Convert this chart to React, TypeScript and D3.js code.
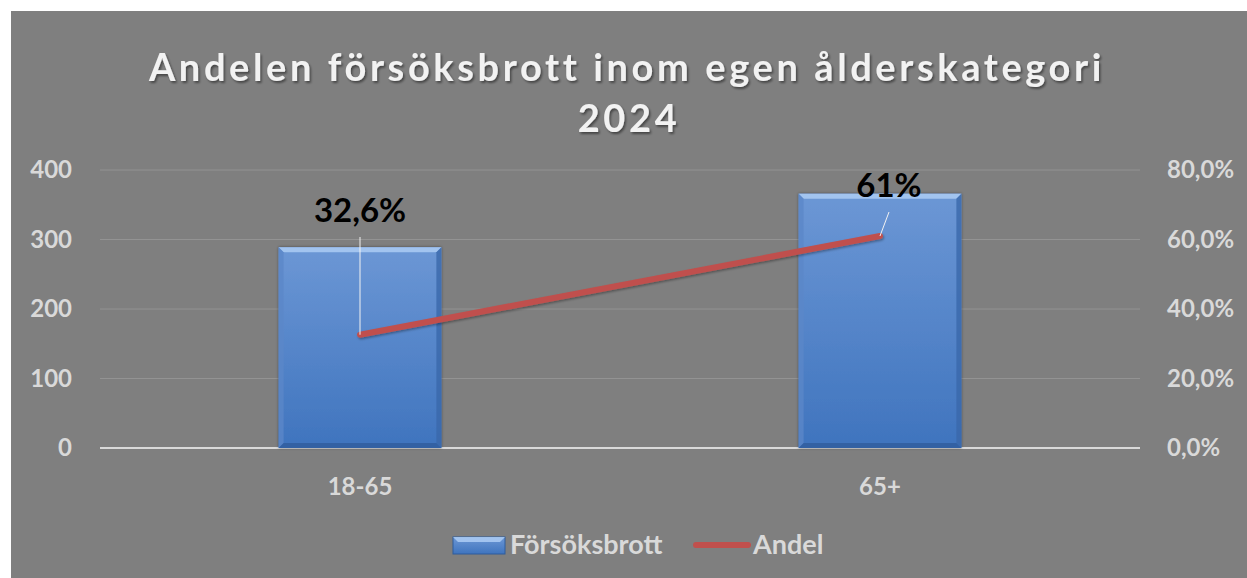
import React from "react";
import * as d3 from "d3";

// chart data
const categories = ["18-65", "65+"];
const attempts = [289, 366]; // Försöksbrott
const shares = [32.6, 61]; // Andel, percent
const shareLabels = ["32,6%", "61%"];
const leftTicks = [0, 100, 200, 300, 400];
const rightTicks = [0, 20, 40, 60, 80];
const titleLines = ["Andelen försöksbrott inom egen ålderskategori", "2024"];

const W = 1247;
const H = 578;
const FONT = "Lato, 'Open Sans', sans-serif";

function App() {
  const x = d3.scaleBand().domain(categories).range([100, 1140]).paddingInner(0.687).paddingOuter(0.3435);
  const yL = d3.scaleLinear().domain([0, 400]).range([448, 170]);
  const yR = d3.scaleLinear().domain([0, 80]).range([448, 170]);

  const bw = x.bandwidth();
  const cx = (c: string) => (x(c) as number) + bw / 2;

  const lineGen = d3.line<number>()
    .x((_, i) => cx(categories[i]))
    .y((d) => yR(d));

  const fmtPct = (v: number) => v.toFixed(1).replace(".", ",") + "%";
  const b = 5; // bevel

  return (
    <svg width={W} height={H} style={{ position: "absolute", left: 0, top: 0 }} fontFamily={FONT}>
      <defs>
        <linearGradient id="barGrad" x1="0" y1="0" x2="0" y2="1">
          <stop offset="0" stopColor="#6c97d5" />
          <stop offset="1" stopColor="#3f74be" />
        </linearGradient>
        <filter id="titleShadow" x="-5%" y="-20%" width="110%" height="150%">
          <feDropShadow dx="1.5" dy="2" stdDeviation="1.2" floodColor="#000" floodOpacity="0.45" />
        </filter>
        <filter id="barShadow" x="-10%" y="-10%" width="120%" height="120%">
          <feDropShadow dx="0" dy="0" stdDeviation="1.5" floodColor="#000" floodOpacity="0.45" />
        </filter>
        <filter id="lineShadow" x="-5%" y="-20%" width="110%" height="150%">
          <feDropShadow dx="1" dy="1.5" stdDeviation="1" floodColor="#000" floodOpacity="0.35" />
        </filter>
      </defs>
      <rect x={0} y={0} width={W} height={H} fill="#ffffff" />
      <rect x={11} y={11} width={W - 11} height={H - 11} fill="#7f7f7f" />

      {/* title */}
      <g fill="#f2f2f2" fontWeight="bold" textAnchor="middle" filter="url(#titleShadow)">
        <text x={627} y={81} fontSize={38} letterSpacing={3.6}>{titleLines[0]}</text>
        <text x={629} y={132} fontSize={38} letterSpacing={3.6}>{titleLines[1]}</text>
      </g>

      {/* gridlines */}
      {leftTicks.map((t) => (
        <line key={t} x1={100} x2={1140} y1={yL(t)} y2={yL(t)}
          stroke={t === 0 ? "#d9d9d9" : "#939393"} strokeWidth={t === 0 ? 2 : 1} />
      ))}

      {/* left axis */}
      <g fill="#d9d9d9" fontWeight="bold" fontSize={24} textAnchor="end">
        {leftTicks.map((t) => (
          <text key={t} x={72} y={yL(t)} dy="0.35em">{t}</text>
        ))}
      </g>
      {/* right axis */}
      <g fill="#d9d9d9" fontWeight="bold" fontSize={24} textAnchor="start">
        {rightTicks.map((t) => (
          <text key={t} x={1167} y={yR(t)} dy="0.35em">{fmtPct(t)}</text>
        ))}
      </g>

      {/* bars */}
      {categories.map((c, i) => {
        const x0 = x(c) as number;
        const x1 = x0 + bw;
        const y0 = yL(attempts[i]);
        const y1 = yL(0);
        return (
          <g key={c}>
            <rect x={x0} y={y0} width={bw} height={y1 - y0} fill="url(#barGrad)" filter="url(#barShadow)" />
            <polygon points={`${x0},${y0} ${x1},${y0} ${x1 - b},${y0 + b} ${x0 + b},${y0 + b}`} fill="#a9c9f2" opacity={0.9} />
            <polygon points={`${x0},${y0} ${x0 + b},${y0 + b} ${x0 + b},${y1 - b} ${x0},${y1}`} fill="#5b87c8" opacity={0.8} />
            <polygon points={`${x1},${y0} ${x1 - b},${y0 + b} ${x1 - b},${y1 - b} ${x1},${y1}`} fill="#3a68aa" opacity={0.8} />
            <polygon points={`${x0},${y1} ${x0 + b},${y1 - b} ${x1 - b},${y1 - b} ${x1},${y1}`} fill="#2f5c9c" opacity={0.8} />
          </g>
        );
      })}

      {/* category labels */}
      <g fill="#d9d9d9" fontWeight="bold" fontSize={24} textAnchor="middle">
        {categories.map((c) => (
          <text key={c} x={cx(c)} y={495}>{c}</text>
        ))}
      </g>

      {/* share line */}
      <path d={lineGen(shares) as string} fill="none" stroke="#c0504d" strokeWidth={6} strokeLinecap="round" filter="url(#lineShadow)" />

      {/* leader lines */}
      <line x1={cx(categories[0])} x2={cx(categories[0])} y1={237} y2={yR(shares[0])} stroke="#f2f2f2" strokeWidth={1} />
      <line x1={cx(categories[1]) + 9} x2={cx(categories[1])} y1={212} y2={yR(shares[1])} stroke="#f2f2f2" strokeWidth={1} />

      {/* data labels */}
      <g fill="#000000" fontWeight="bold" fontSize={33} textAnchor="middle">
        <text x={cx(categories[0])} y={222}>{shareLabels[0]}</text>
        <text x={cx(categories[1]) + 9} y={197}>{shareLabels[1]}</text>
      </g>

      {/* legend */}
      <g>
        <rect x={453} y={537} width={52} height={17} fill="url(#barGrad)" stroke="#2f5c9c" strokeWidth={1} />
        <polygon points="453,537 505,537 500,542 458,542" fill="#a9c9f2" opacity={0.9} />
        <text x={510} y={554} fill="#d9d9d9" fontWeight="bold" fontSize={27}>Försöksbrott</text>
        <line x1={696} x2={748} y1={545} y2={545} stroke="#c0504d" strokeWidth={6} strokeLinecap="round" />
        <text x={753} y={554} fill="#d9d9d9" fontWeight="bold" fontSize={27}>Andel</text>
      </g>
    </svg>
  );
}

export default App;
